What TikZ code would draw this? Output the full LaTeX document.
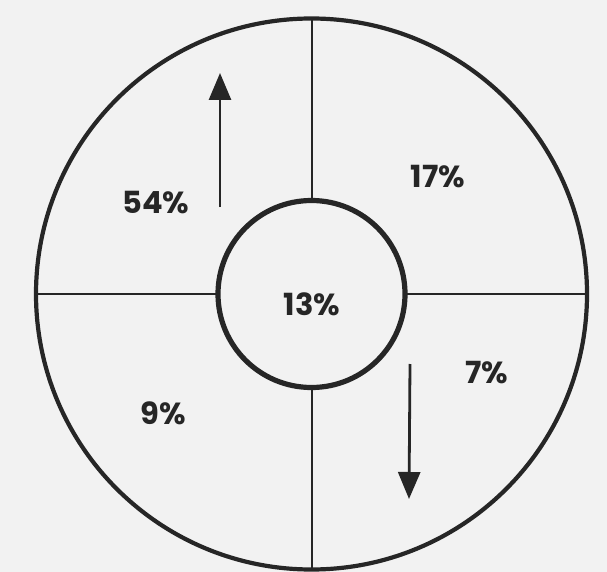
\documentclass[tikz,border=0pt]{standalone}
\usepackage{fontspec}
\newfontfamily\pctfont{Poppins}
\usetikzlibrary{arrows.meta}
\usetikzlibrary{positioning}

\begin{document}
\begin{tikzpicture}[x=1pt,y=-1pt,
		ink/.style={draw=black!85},
		ring/.style={circle,ink,inner sep=0pt,outer sep=0pt},
		pct/.style={font=\pctfont\bfseries\fontsize{30.5}{30.5}\selectfont,text=black!85},
		sector line/.style={ink,line width=2pt},
		flow/.style={ink,line width=2.8pt,-{Triangle[width=22pt,length=27pt]}}]

	\fill[black!5] (0,0) rectangle (607,572);
	\useasboundingbox (0,0) rectangle (607,572);

	\node[ring,line width=4.2pt,minimum size=551pt] (outer) at (311.5,294) {};
	\node[ring,line width=5.2pt,minimum size=187pt] (inner) at (311.5,294) {};

	% the four dividing lines
	\draw[sector line] (outer.north) -- (inner.north);
	\draw[sector line] (inner.south) -- (outer.south);
	\draw[sector line] (outer.west) -- (inner.west);
	\draw[sector line] (inner.east) -- (outer.east);

	\node[pct] (core) at (312,304) {13\%};
	\node[pct] (nw) at (156,203) {54\%};
	\node[pct] (ne) at (438,177) {17\%};
	\node[pct] (se) at (487,373) {7\%};
	\node[pct] (sw) at (163,413) {9\%};

	\coordinate (up tail) at (220,207);
	\coordinate (up tip) at (220,73);
	\coordinate (down tail) at (410,364);
	\coordinate (down tip) at (409,499);
	\draw[flow] (up tail) -- (up tip);
	\draw[flow] (down tail) -- (down tip);

\end{tikzpicture}
\end{document}
